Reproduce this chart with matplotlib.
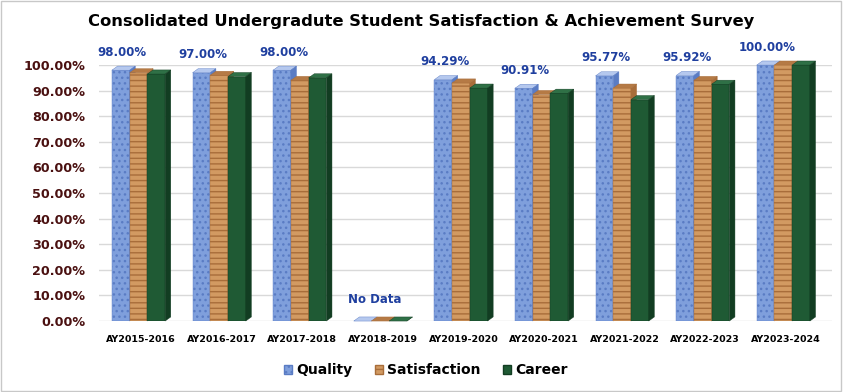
import numpy as np
import matplotlib
matplotlib.use('Agg')
import matplotlib.pyplot as plt
from matplotlib.patches import Polygon, Rectangle, Patch

years = ['AY2015-2016', 'AY2016-2017', 'AY2017-2018', 'AY2018-2019', 'AY2019-2020',
         'AY2020-2021', 'AY2021-2022', 'AY2022-2023', 'AY2023-2024']
quality = [98.00, 97.00, 98.00, 0.0, 94.29, 90.91, 95.77, 95.92, 100.00]
satisfaction = [97.0, 96.0, 94.0, 0.0, 93.0, 88.5, 91.0, 94.0, 100.0]
career = [96.5, 95.5, 95.0, 0.0, 91.0, 89.0, 86.5, 92.5, 100.0]

series = [('Quality', quality, '#7f9fdc', '#5a7cc4', '#b5c8ee', '...'),
          ('Satisfaction', satisfaction, '#d29a62', '#a86d3a', '#b57a45', '---'),
          ('Career', career, '#1f5a34', '#123d22', '#2f7046', '')]

plt.rcParams['font.family'] = 'DejaVu Sans'
fig = plt.figure(figsize=(8.43, 3.92), dpi=100)
ax = fig.add_axes([0.1175, 0.181, 0.87, 0.653])

x = np.arange(len(years))
bw = 0.22
dx = 0.07
dy = 1.6

for k, (name, vals, face, side, topc, hatch) in enumerate(series):
    for i, v in enumerate(vals):
        x0 = x[i] - 1.5 * bw + k * bw - 0.03
        # front face
        ax.add_patch(Rectangle((x0, 0), bw, v, facecolor=face, edgecolor=side,
                               hatch=hatch, linewidth=0.3, zorder=3 + k))
        # top face
        ax.add_patch(Polygon([(x0, v), (x0 + bw, v), (x0 + bw + dx, v + dy), (x0 + dx, v + dy)],
                             closed=True, facecolor=topc, edgecolor=side, linewidth=0.3,
                             zorder=3 + k, clip_on=False))
        # side face
        ax.add_patch(Polygon([(x0 + bw, 0), (x0 + bw + dx, dy), (x0 + bw + dx, v + dy), (x0 + bw, v)],
                             closed=True, facecolor=side, edgecolor=side, linewidth=0.3,
                             zorder=3 + k, clip_on=False))

for i, v in enumerate(quality):
    if v > 0:
        ax.text(x[i] - bw - 0.01, v + 4.5, '{:.2f}%'.format(v), ha='center', va='bottom',
                fontsize=8.5, fontweight='bold', color='#1f3f9f')
    else:
        ax.text(x[i] - 0.1, 6, 'No Data', ha='center', va='bottom',
                fontsize=8.5, fontweight='bold', color='#1f3f9f')

ax.set_xlim(-0.52, len(years) - 0.42)
ax.set_ylim(0, 100)
ax.set_yticks(np.arange(0, 101, 10))
ax.set_yticklabels(['{:.2f}%'.format(t) for t in range(0, 101, 10)],
                   fontsize=9.2, fontweight='bold', color='#4a1010')
ax.set_xticks(x)
ax.set_xticklabels(years, fontsize=6.8, fontweight='bold')
ax.tick_params(axis='y', length=0, pad=10)
ax.tick_params(axis='x', length=0, pad=10)
ax.grid(axis='y', color='#d9d9d9', linewidth=1, zorder=0)
ax.set_axisbelow(True)
for s in ax.spines.values():
    s.set_visible(False)

fig.suptitle('Consolidated Undergradute Student Satisfaction & Achievement Survey',
             y=0.965, fontsize=11.8, fontweight='bold')

handles = [Patch(facecolor=c, edgecolor=e, hatch=h, label=n) for n, _, c, e, _, h in series]
leg = fig.legend(handles=handles, loc='center', bbox_to_anchor=(0.505, 0.055), ncol=3,
                 frameon=False, handlelength=0.6, handleheight=0.6,
                 columnspacing=1.6, handletextpad=0.3,
                 prop={'size': 10, 'weight': 'bold'})

fig.patches.append(Rectangle((0.001, 0.002), 0.997, 0.995, transform=fig.transFigure,
                             fill=False, edgecolor='#c8c8c8', linewidth=1))

fig.savefig('out.png', dpi=100)
